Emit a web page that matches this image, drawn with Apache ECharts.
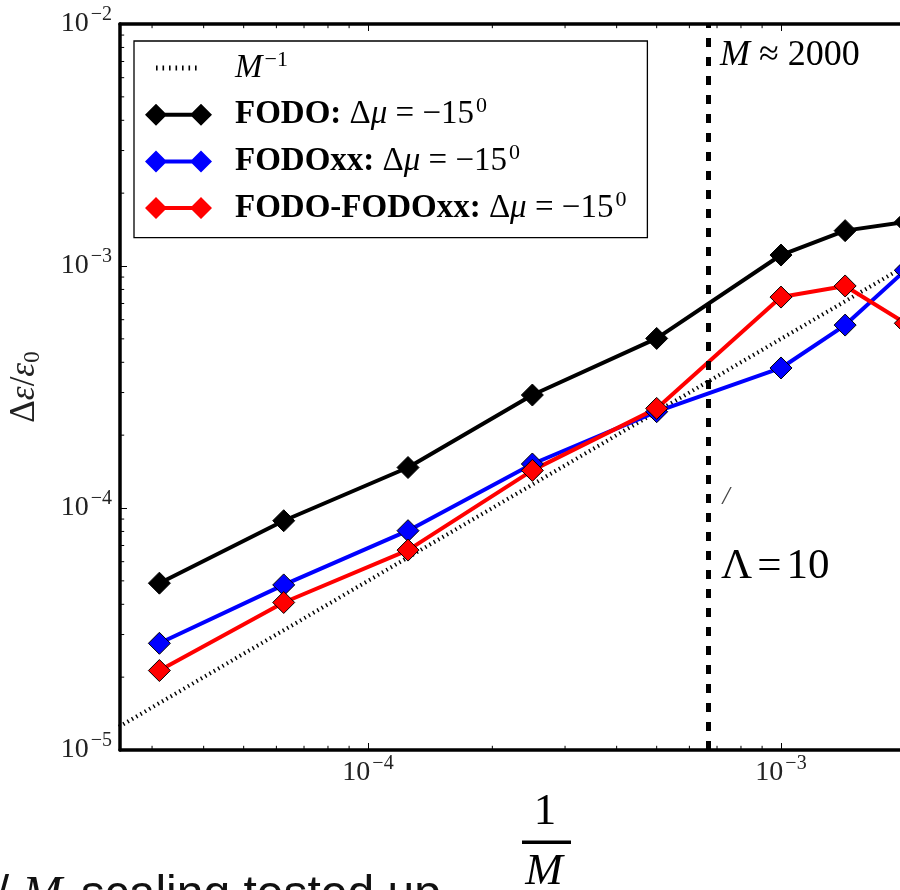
<!DOCTYPE html>
<html>
<head>
<meta charset="utf-8">
<script src="https://cdn.jsdelivr.net/npm/echarts@6/dist/echarts.min.js"></script>
<style>
html, body { margin: 0; padding: 0; background: #fff; }
#main { width: 900px; height: 890px; }
</style>
</head>
<body>
<div id="main"></div>
<script>
// 1/M values (x) and relative emittance growth (y)
var xVals      = [3.125e-5, 6.25e-5, 1.25e-4, 2.5e-4, 5e-4, 1e-3, 1.43e-3, 2e-3];
var fodo       = [4.89e-5, 8.86e-5, 1.47e-4, 2.93e-4, 5.02e-4, 1.11e-3, 1.40e-3, 1.52e-3];
var fodoxx     = [2.76e-5, 4.81e-5, 8.06e-5, 1.52e-4, 2.50e-4, 3.79e-4, 5.70e-4, 9.6e-4];
var fodoFodoxx = [2.13e-5, 4.07e-5, 6.70e-5, 1.43e-4, 2.58e-4, 7.44e-4, 8.27e-4, 5.8e-4];

// M^-1 reference line end points
var refX = [1e-5, 1e-2];
var refY = [5e-6, 5e-3];

// M ~ 2000 marker
var markX = 6.67e-4;

// axis ranges and minor tick values
var xMin = 2.509e-5, xMax = 1e-2;
var yMin = 1e-5, yMax = 1e-2;
var xMinor = [3e-5, 4e-5, 5e-5, 6e-5, 7e-5, 8e-5, 9e-5,
              2e-4, 3e-4, 4e-4, 5e-4, 6e-4, 7e-4, 8e-4, 9e-4,
              2e-3, 3e-3, 4e-3, 5e-3, 6e-3, 7e-3, 8e-3, 9e-3];
var yMinor = [2e-5, 3e-5, 4e-5, 5e-5, 6e-5, 7e-5, 8e-5, 9e-5,
              2e-4, 3e-4, 4e-4, 5e-4, 6e-4, 7e-4, 8e-4, 9e-4,
              2e-3, 3e-3, 4e-3, 5e-3, 6e-3, 7e-3, 8e-3, 9e-3];

var SERIF = 'Liberation Serif';
var SANS = 'Liberation Sans';

function pairs(xs, ys) {
    return xs.map(function (x, i) { return [x, ys[i]]; });
}

function powLabel(v) {
    var l = Math.log10(v);
    var e = Math.round(l);
    if (Math.abs(l - e) > 1e-6) return '';
    return '{b|10}{s|' + (e < 0 ? '\u2212' + (-e) : e) + '}';
}

var tickRich = {
    b: {fontFamily: SERIF, fontSize: 28, lineHeight: 38, color: '#222'},
    s: {fontFamily: SERIF, fontSize: 20, lineHeight: 18, verticalAlign: 'top', color: '#222', padding: [0, 0, 0, 2]}
};

var minorData = xMinor.map(function (v) { return [v, yMin, 0]; })
    .concat(yMinor.map(function (v) { return [xMin, v, 1]; }));

var pairIcon = 'path://M0 11L11 0L22 11L11 22Z M45 11L56 0L67 11L56 22Z M20 9L47 9L47 13L20 13Z';
var dotIcon = 'path://M0 0L0.01 0L0 0.01Z M67 22L66.99 22L67 21.99Z' +
    ' M11 8.5h1.6v5h-1.6Z M17.5 8.5h1.6v5h-1.6Z M24 8.5h1.6v5h-1.6Z M30.5 8.5h1.6v5h-1.6Z' +
    ' M37 8.5h1.6v5h-1.6Z M43.5 8.5h1.6v5h-1.6Z M50 8.5h1.6v5h-1.6Z';

var legendText = {
    'M^-1': '{sp| }{i|M}{s|\u22121}',
    'FODO': '{sp| }{b|FODO:}{r| \u0394}{i|\u03bc}{r| = \u221215}{s|0}',
    'FODOxx': '{sp| }{b|FODOxx:}{r| \u0394}{i|\u03bc}{r| = \u221215}{s|0}',
    'FODO-FODOxx': '{sp| }{b|FODO-FODOxx:}{r| \u0394}{i|\u03bc}{r| = \u221215}{s|0}'
};

var myChart = echarts.init(document.getElementById('main'));

var option = {
    animation: false,
    backgroundColor: '#fff',
    textStyle: {fontFamily: SERIF, color: '#000'},
    grid: {
        left: 120,
        top: 24,
        right: -294,
        bottom: 140,
        containLabel: false,
        outerBoundsMode: 'none'
    },
    legend: {
        orient: 'vertical',
        left: 134,
        top: 41,
        padding: [8, 21, 13, 11],
        itemWidth: 67,
        itemHeight: 22,
        itemGap: 11.2,
        borderColor: '#000',
        borderWidth: 1.3,
        backgroundColor: '#fff',
        selectedMode: false,
        itemStyle: {borderWidth: 0},
        data: [
            {name: 'M^-1', icon: dotIcon},
            {name: 'FODO', icon: pairIcon},
            {name: 'FODOxx', icon: pairIcon},
            {name: 'FODO-FODOxx', icon: pairIcon}
        ],
        formatter: function (name) { return legendText[name]; },
        textStyle: {
            fontFamily: SERIF,
            fontSize: 33,
            color: '#000',
            rich: {
                sp: {width: 18},
                b: {fontFamily: SERIF, fontWeight: 'bold', fontSize: 33, lineHeight: 38},
                r: {fontFamily: SERIF, fontSize: 33, lineHeight: 38},
                i: {fontFamily: SERIF, fontStyle: 'italic', fontSize: 33, lineHeight: 38},
                s: {fontFamily: SERIF, fontSize: 22, lineHeight: 20, verticalAlign: 'top', padding: [0, 0, 0, 2]}
            }
        }
    },
    xAxis: [{
        type: 'log',
        min: xMin,
        max: xMax,
        axisLine: {show: true, onZero: false, lineStyle: {color: '#000', width: 3.5}},
        axisTick: {inside: true, length: 7, lineStyle: {color: '#000', width: 1}},
        axisLabel: {formatter: powLabel, margin: 4, rich: tickRich},
        splitLine: {show: false}
    }, {
        type: 'log',
        position: 'top',
        min: xMin,
        max: xMax,
        axisLine: {show: true, onZero: false, lineStyle: {color: '#000', width: 3.5}},
        axisTick: {inside: true, length: 7, lineStyle: {color: '#000', width: 1}},
        axisLabel: {show: false},
        splitLine: {show: false}
    }],
    yAxis: {
        type: 'log',
        min: yMin,
        max: yMax,
        name: '{d|\u0394}{e|\u03b5}{d|/}{e|\u03b5}{u|0}',
        nameLocation: 'middle',
        nameRotate: 90,
        nameGap: 76,
        nameTextStyle: {
            rich: {
                d: {fontFamily: SERIF, fontSize: 35, color: '#222', lineHeight: 38},
                e: {fontFamily: SERIF, fontStyle: 'italic', fontSize: 35, color: '#222', lineHeight: 38},
                u: {fontFamily: SERIF, fontSize: 23, color: '#222', lineHeight: 22, verticalAlign: 'bottom'}
            }
        },
        axisLine: {show: true, onZero: false, lineStyle: {color: '#000', width: 3.5}},
        axisTick: {inside: true, length: 7, lineStyle: {color: '#000', width: 1}},
        axisLabel: {formatter: powLabel, margin: 8, rich: tickRich},
        splitLine: {show: false}
    },
    series: [{
        name: 'M^-1',
        type: 'line',
        color: '#000',
        symbol: 'none',
        data: pairs(refX, refY),
        lineStyle: {color: '#000', width: 4, type: [1.4, 3.6]},
        markLine: {
            silent: true,
            symbol: 'none',
            label: {show: false},
            lineStyle: {color: '#000', width: 5, type: [9, 10]},
            data: [[{coord: [markX, yMin]}, {coord: [markX, yMax]}]]
        }
    }, {
        name: 'FODO',
        type: 'line',
        color: '#000',
        data: pairs(xVals, fodo),
        symbol: 'diamond',
        symbolSize: 22,
        lineStyle: {color: '#000', width: 4},
        itemStyle: {color: '#000', borderColor: '#000', borderWidth: 1}
    }, {
        name: 'FODOxx',
        type: 'line',
        color: '#0000ff',
        data: pairs(xVals, fodoxx),
        symbol: 'diamond',
        symbolSize: 22,
        lineStyle: {color: '#0000ff', width: 4},
        itemStyle: {color: '#0000ff', borderColor: '#000', borderWidth: 1}
    }, {
        name: 'FODO-FODOxx',
        type: 'line',
        color: '#ff0000',
        data: pairs(xVals, fodoFodoxx),
        symbol: 'diamond',
        symbolSize: 22,
        lineStyle: {color: '#ff0000', width: 4},
        itemStyle: {color: '#ff0000', borderColor: '#000', borderWidth: 1}
    }, {
        // minor ticks at 2..9 x 10^n, like matplotlib
        type: 'custom',
        silent: true,
        clip: false,
        data: minorData,
        renderItem: function (params, api) {
            var style = {stroke: '#000', lineWidth: 1};
            if (api.value(2) === 0) {
                var b = api.coord([api.value(0), yMin]);
                var t = api.coord([api.value(0), yMax]);
                return {type: 'group', children: [
                    {type: 'line', shape: {x1: b[0], y1: b[1], x2: b[0], y2: b[1] - 4.2}, style: style},
                    {type: 'line', shape: {x1: t[0], y1: t[1], x2: t[0], y2: t[1] + 4.2}, style: style}
                ]};
            }
            var l = api.coord([xMin, api.value(1)]);
            return {type: 'line', shape: {x1: l[0], y1: l[1], x2: l[0] + 4.2, y2: l[1]}, style: style};
        }
    }],
    graphic: [{
        type: 'text',
        style: {
            x: 720, y: 56, verticalAlign: 'middle',
            text: '{i|M}{r| \u2248 2000}',
            rich: {
                i: {fontFamily: SERIF, fontStyle: 'italic', fontSize: 36},
                r: {fontFamily: SERIF, fontSize: 36}
            }
        }
    }, {
        type: 'text',
        style: {
            x: 726, y: 497, align: 'center', verticalAlign: 'middle',
            text: '/', fontFamily: SERIF, fontStyle: 'italic', fontSize: 26, fill: '#444'
        }
    }, {
        type: 'text',
        style: {
            x: 721, y: 567, verticalAlign: 'middle',
            text: '{r|\u039b}{e|=}{r|10}',
            rich: {
                r: {fontFamily: SERIF, fontSize: 43},
                e: {fontFamily: SERIF, fontSize: 43, padding: [0, 5, 0, 5]}
            }
        }
    }, {
        type: 'text',
        style: {
            x: 545, y: 812, align: 'center', verticalAlign: 'middle',
            text: '1', fontFamily: SERIF, fontSize: 45, fill: '#000'
        }
    }, {
        type: 'rect',
        shape: {x: 522, y: 840.5, width: 49, height: 3.5},
        style: {fill: '#000'}
    }, {
        type: 'text',
        style: {
            x: 544, y: 872, align: 'center', verticalAlign: 'middle',
            text: 'M', fontFamily: SERIF, fontStyle: 'italic', fontSize: 45, fill: '#000'
        }
    }, {
        type: 'text',
        style: {
            x: -31, y: 896, verticalAlign: 'middle',
            text: '{a|1/ }{m|M}{a| scaling tested up}',
            rich: {
                a: {fontFamily: SANS, fontSize: 48, fill: '#111'},
                m: {fontFamily: SERIF, fontStyle: 'italic', fontSize: 48, fill: '#111', padding: [0, 5, 0, 0]}
            }
        }
    }]
};

myChart.setOption(option);
</script>
</body>
</html>
